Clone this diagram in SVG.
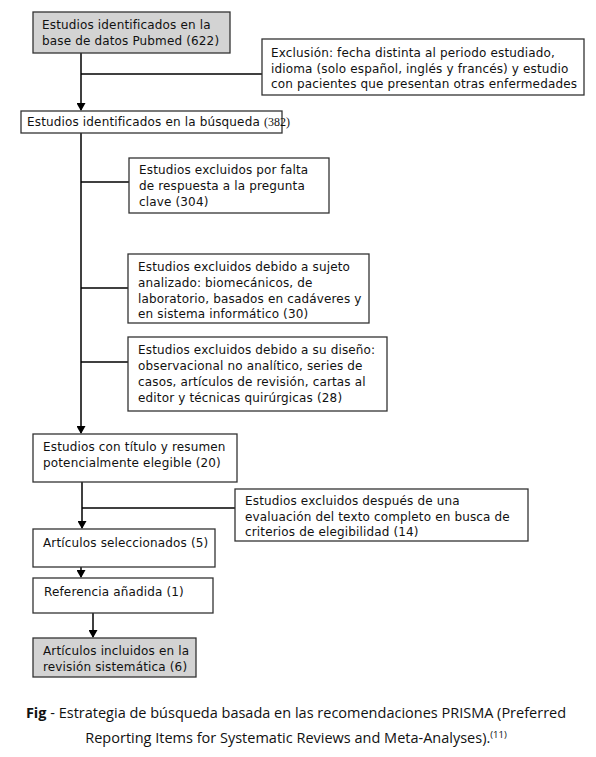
<svg xmlns="http://www.w3.org/2000/svg" width="596" height="757" viewBox="0 0 596 757">
<defs>
<marker id="arr" markerWidth="8" markerHeight="9" refX="7" refY="4.5" orient="auto" markerUnits="userSpaceOnUse">
<path d="M0,0 L8,4.5 L0,9 Z" fill="#000"/>
</marker>
<style>
.box{fill:#fff;stroke:#333;stroke-width:1.3}
.grey{fill:#d3d3d3;stroke:#333;stroke-width:1.3}
.t{font-family:"DejaVu Sans",Verdana,sans-serif;font-size:12px;letter-spacing:0.15px;fill:#111}
.ser{font-family:"Liberation Serif","Times New Roman",serif;font-size:12px;letter-spacing:0}
.ln{stroke:#000;stroke-width:1.5;fill:none}
.arrow{stroke:#000;stroke-width:1.5;fill:none;marker-end:url(#arr)}
.cap{font-family:"Open Sans","Noto Sans",sans-serif;font-size:14.5px;fill:#111}
</style>
</defs>
<rect width="596" height="757" fill="#fff"/>
<g id="connectors">
<line class="arrow" x1="81" y1="53" x2="81" y2="110"/>
<line class="ln" x1="81" y1="74" x2="262" y2="74"/>
<line class="arrow" x1="81" y1="133" x2="81" y2="433"/>
<line class="ln" x1="81" y1="182" x2="129" y2="182"/>
<line class="ln" x1="81" y1="288" x2="128" y2="288"/>
<line class="ln" x1="81" y1="362" x2="128" y2="362"/>
<line class="arrow" x1="82" y1="482" x2="82" y2="528"/>
<line class="ln" x1="82" y1="508" x2="235" y2="508"/>
<line class="arrow" x1="81" y1="567" x2="81" y2="577"/>
<line class="arrow" x1="93" y1="613" x2="93" y2="637"/>
</g>
<g id="n1">
<rect class="grey" x="33" y="12" width="197" height="41"/>
<text class="t" x="42" y="29">Estudios identificados en la</text>
<text class="t" x="42" y="45">base de datos Pubmed (622)</text>
</g>
<g id="n2">
<rect class="box" x="262" y="39" width="322" height="56"/>
<text class="t" x="271" y="57">Exclusión: fecha distinta al periodo estudiado,</text>
<text class="t" x="271" y="73">idioma (solo español, inglés y francés) y estudio</text>
<text class="t" x="271" y="88">con pacientes que presentan otras enfermedades</text>
</g>
<g id="n3">
<rect class="box" x="21" y="111" width="261" height="22"/>
<text class="t" x="27" y="126" font-size="11.2px" letter-spacing="0">Estudios identificados en la búsqueda <tspan class="ser">(382)</tspan></text>
</g>
<g id="n4">
<rect class="box" x="129" y="158" width="200" height="55"/>
<text class="t" x="139" y="174">Estudios excluidos por falta</text>
<text class="t" x="139" y="190">de respuesta a la pregunta</text>
<text class="t" x="139" y="206">clave (304)</text>
</g>
<g id="n5">
<rect class="box" x="128" y="254" width="241" height="69"/>
<text class="t" x="138" y="271">Estudios excluidos debido a sujeto</text>
<text class="t" x="138" y="287">analizado: biomecánicos, de</text>
<text class="t" x="138" y="303">laboratorio, basados en cadáveres y</text>
<text class="t" x="138" y="318">en sistema informático (30)</text>
</g>
<g id="n6">
<rect class="box" x="128" y="337" width="259" height="74"/>
<text class="t" x="138" y="354">Estudios excluidos debido a su diseño:</text>
<text class="t" x="138" y="370">observacional no analítico, series de</text>
<text class="t" x="138" y="386">casos, artículos de revisión, cartas al</text>
<text class="t" x="138" y="402">editor y técnicas quirúrgicas (28)</text>
</g>
<g id="n7">
<rect class="box" x="33" y="434" width="204" height="48"/>
<text class="t" x="43" y="451">Estudios con título y resumen</text>
<text class="t" x="43" y="467">potencialmente elegible (20)</text>
</g>
<g id="n8">
<rect class="box" x="235" y="489" width="293" height="52"/>
<text class="t" x="245" y="505">Estudios excluidos después de una</text>
<text class="t" x="245" y="521">evaluación del texto completo en busca de</text>
<text class="t" x="245" y="536">criterios de elegibilidad (14)</text>
</g>
<g id="n9">
<rect class="box" x="33" y="529" width="182" height="38"/>
<text class="t" x="43" y="547">Artículos seleccionados (5)</text>
</g>
<g id="n10">
<rect class="box" x="33" y="578" width="180" height="35"/>
<text class="t" x="44" y="596">Referencia añadida (1)</text>
</g>
<g id="n11">
<rect class="grey" x="33" y="638" width="163" height="39"/>
<text class="t" x="43" y="655">Artículos incluidos en la</text>
<text class="t" x="43" y="671">revisión sistemática (6)</text>
</g>
<g id="caption">
<text class="cap" x="296" y="718" text-anchor="middle"><tspan font-weight="bold">Fig</tspan> - Estrategia de búsqueda basada en las recomendaciones PRISMA (Preferred</text>
<text class="cap" x="296" y="743" text-anchor="middle">Reporting Items for Systematic Reviews and Meta-Analyses).<tspan font-size="9.5px" dy="-5">(11)</tspan></text>
</g>
</svg>
